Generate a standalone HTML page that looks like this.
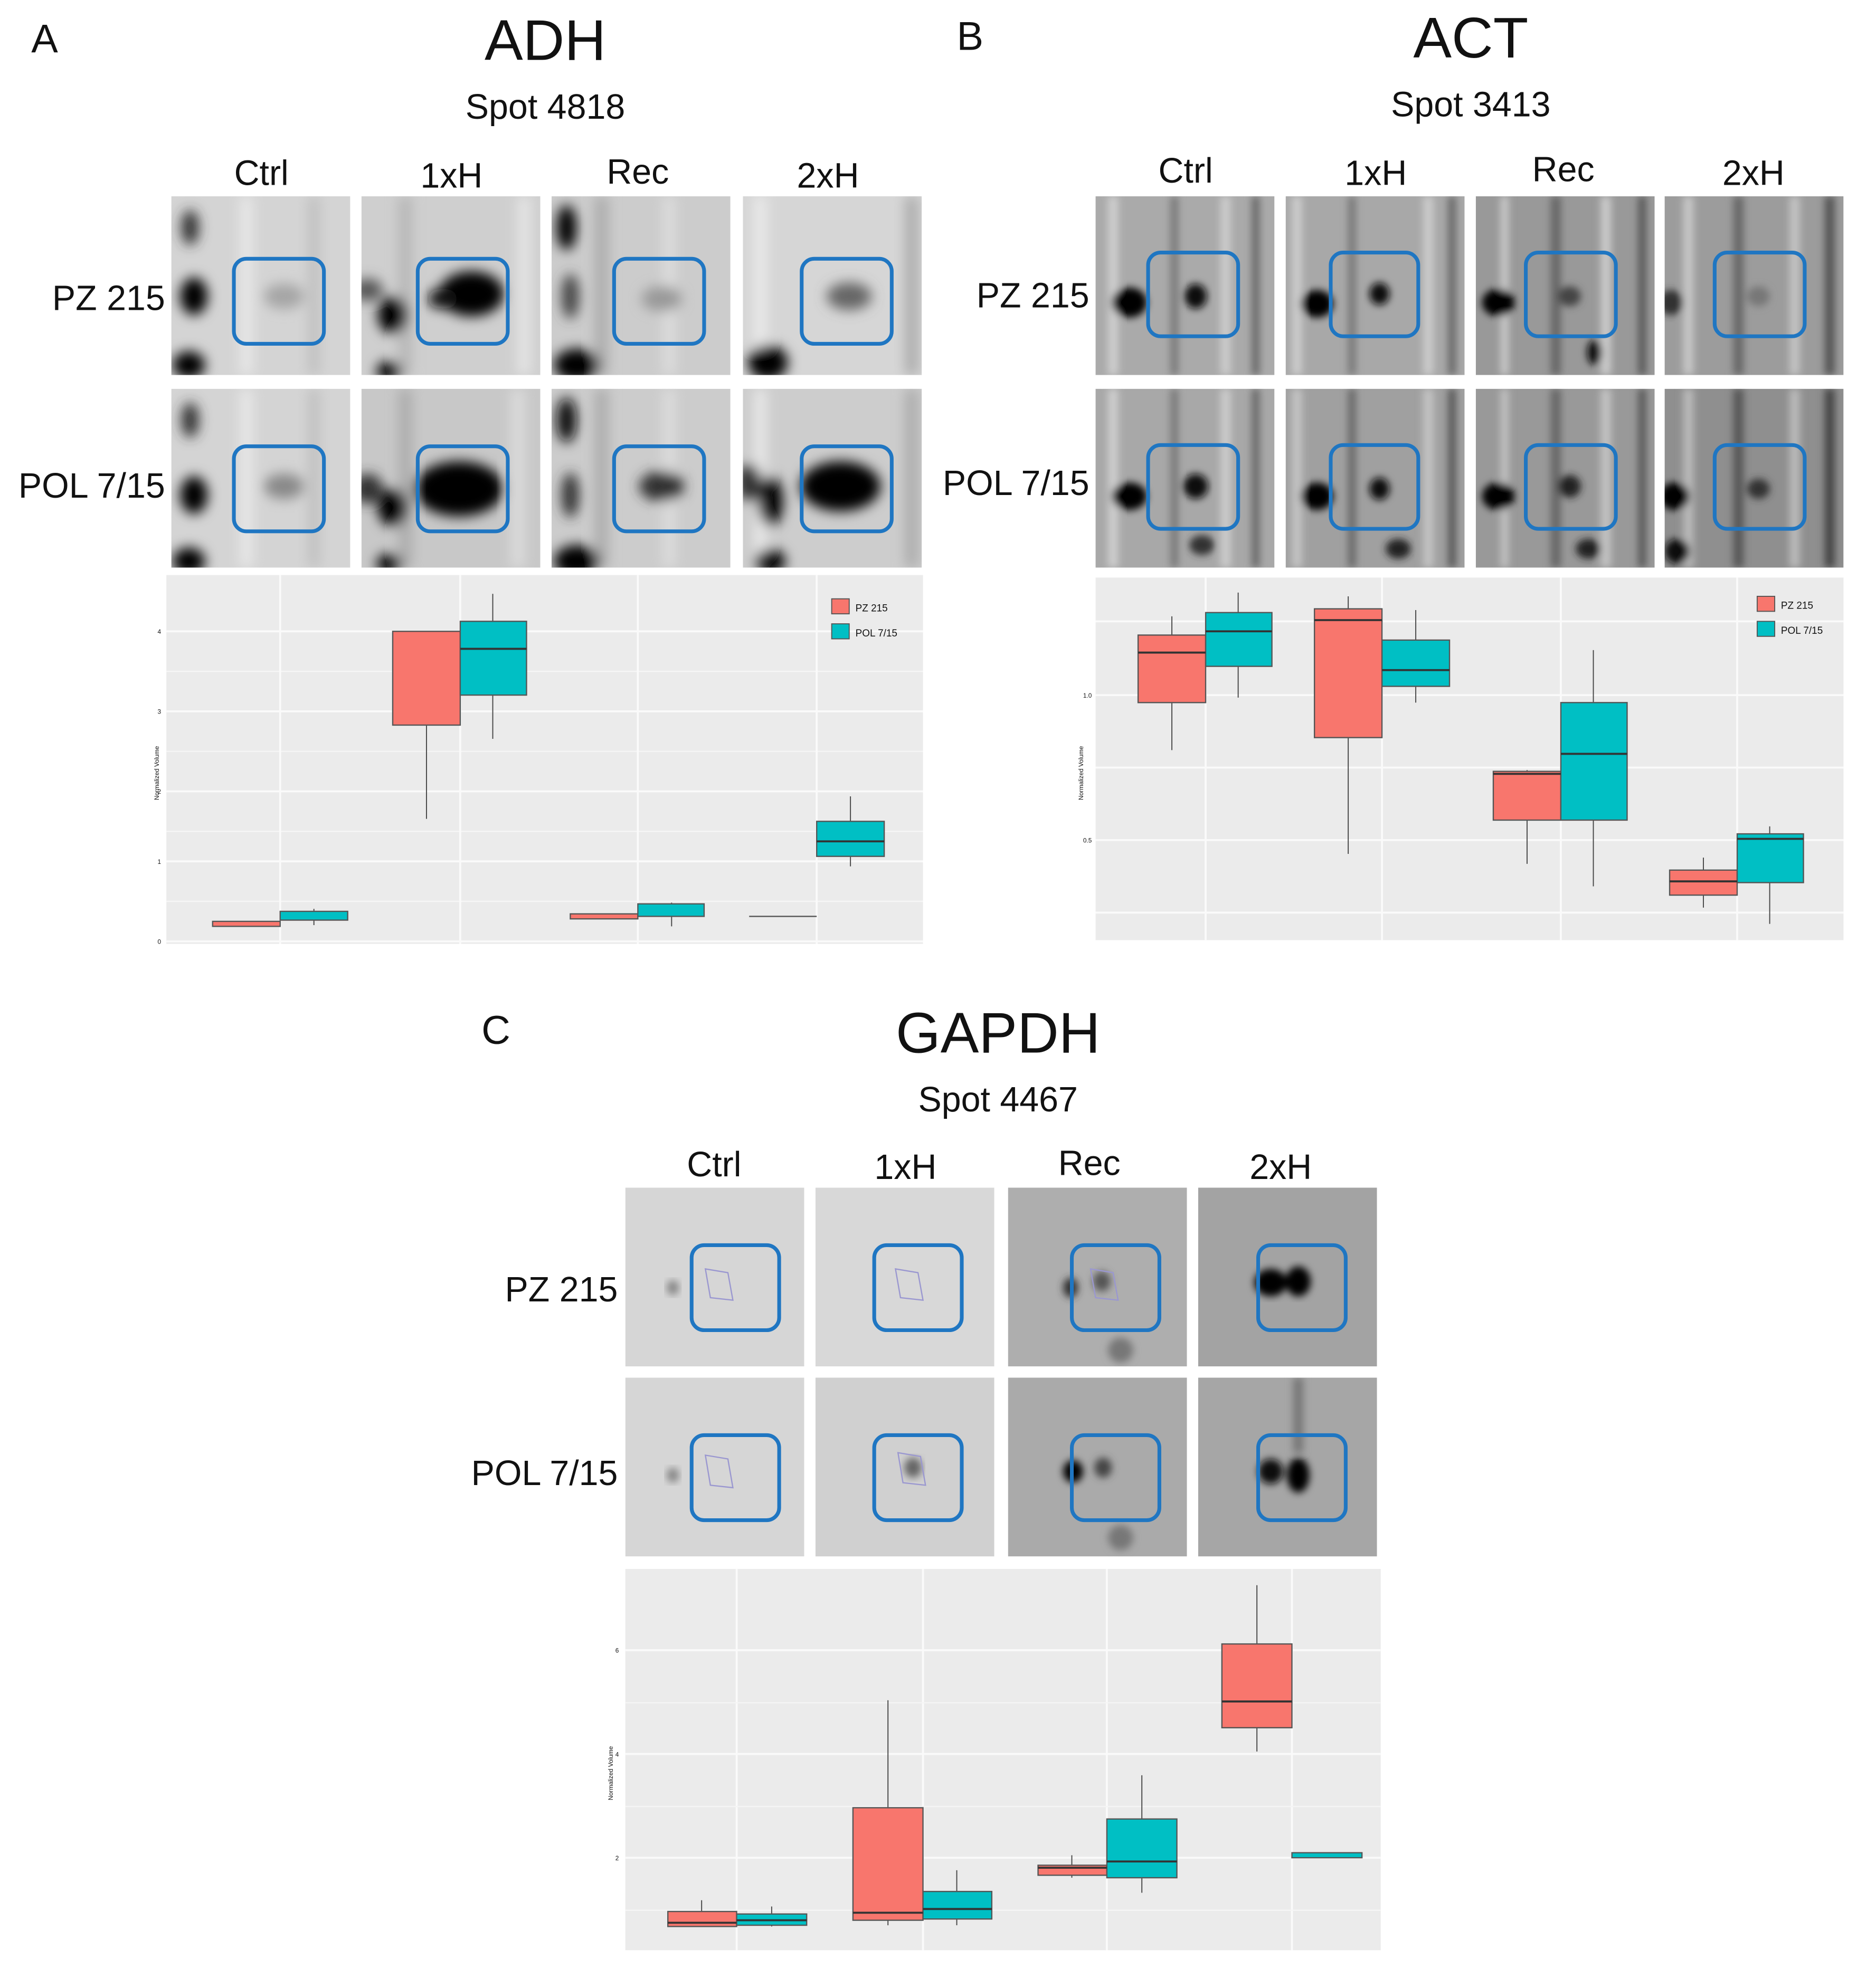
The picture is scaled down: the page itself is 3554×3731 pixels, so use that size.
<!DOCTYPE html>
<html><head><meta charset="utf-8"><style>
html,body{margin:0;padding:0;background:#fff;}
svg{display:block;}
text{font-family:"Liberation Sans",sans-serif;fill:#111;}
</style></head><body>
<svg width="3554" height="3731" viewBox="0 0 1500 1575" preserveAspectRatio="none" xmlns="http://www.w3.org/2000/svg">
<defs>
<clipPath id="cp"><rect x="0" y="0" width="143" height="143"/></clipPath>
<filter id="b" x="-20%" y="-20%" width="140%" height="140%"><feGaussianBlur stdDeviation="5"/></filter>
<filter id="b2" x="-20%" y="-20%" width="140%" height="140%"><feGaussianBlur stdDeviation="3"/></filter>
</defs>
<rect width="1500" height="1575" fill="#fff"/>

<!-- ===== Titles ===== -->
<text x="25" y="42" font-size="32">A</text>
<text x="436" y="48" font-size="46" text-anchor="middle">ADH</text>
<text x="436" y="95" font-size="28" text-anchor="middle">Spot 4818</text>
<text x="765" y="40" font-size="32">B</text>
<text x="1176" y="46" font-size="46" text-anchor="middle">ACT</text>
<text x="1176" y="93" font-size="28" text-anchor="middle">Spot 3413</text>
<text x="385" y="835" font-size="32">C</text>
<text x="798" y="842" font-size="46" text-anchor="middle">GAPDH</text>
<text x="798" y="889" font-size="28" text-anchor="middle">Spot 4467</text>

<g font-size="28" text-anchor="middle">
<text x="209" y="148">Ctrl</text><text x="361" y="150">1xH</text><text x="510" y="147">Rec</text><text x="662" y="150">2xH</text>
<text x="948" y="146">Ctrl</text><text x="1100" y="148">1xH</text><text x="1250" y="145">Rec</text><text x="1402" y="148">2xH</text>
<text x="571" y="941">Ctrl</text><text x="724" y="943">1xH</text><text x="871" y="940">Rec</text><text x="1024" y="943">2xH</text>
</g>
<g font-size="28" text-anchor="end">
<text x="132" y="248">PZ 215</text><text x="132" y="398">POL 7/15</text>
<text x="871" y="246">PZ 215</text><text x="871" y="396">POL 7/15</text>
<text x="494" y="1041">PZ 215</text><text x="494" y="1188">POL 7/15</text>
</g>

<!-- ===== A gels ===== -->
<g id="A">
<!-- row1 -->
<g transform="translate(137,157)" clip-path="url(#cp)"><rect width="143" height="143" fill="#d4d4d4"/><g filter="url(#b)">
<rect x="55" y="0" width="10" height="143" fill="#e8e8e8"/><rect x="110" y="0" width="8" height="143" fill="#bdbdbd"/>
<ellipse cx="15" cy="25" rx="7" ry="14" fill="#333"/><ellipse cx="18" cy="80" rx="11" ry="15" fill="#000"/><ellipse cx="14" cy="135" rx="13" ry="11" fill="#000"/>
<ellipse cx="90" cy="80" rx="16" ry="10" fill="#a5a5a5"/></g>
<rect x="50" y="50" width="72" height="68" rx="10" fill="none" stroke="#1f76c2" stroke-width="3"/></g>
<g transform="translate(289,157)" clip-path="url(#cp)"><rect width="143" height="143" fill="#cfcfcf"/><g filter="url(#b)">
<rect x="30" y="0" width="10" height="143" fill="#b5b5b5"/><rect x="125" y="0" width="10" height="143" fill="#e6e6e6"/>
<ellipse cx="5" cy="75" rx="12" ry="9" fill="#555"/><ellipse cx="25" cy="95" rx="12" ry="15" fill="#000"/><ellipse cx="22" cy="140" rx="10" ry="8" fill="#000"/>
<ellipse cx="88" cy="78" rx="26" ry="18" fill="#000"/><ellipse cx="65" cy="82" rx="12" ry="8" fill="#111"/></g>
<rect x="45" y="50" width="72" height="68" rx="10" fill="none" stroke="#1f76c2" stroke-width="3"/></g>
<g transform="translate(441,157)" clip-path="url(#cp)"><rect width="143" height="143" fill="#cccccc"/><g filter="url(#b)">
<rect x="35" y="0" width="10" height="143" fill="#aaa"/><rect x="90" y="0" width="8" height="143" fill="#e0e0e0"/>
<ellipse cx="12" cy="25" rx="8" ry="18" fill="#000"/><ellipse cx="15" cy="80" rx="7" ry="18" fill="#444"/><ellipse cx="20" cy="135" rx="18" ry="13" fill="#000"/>
<ellipse cx="88" cy="82" rx="16" ry="10" fill="#999"/></g>
<rect x="50" y="50" width="72" height="68" rx="10" fill="none" stroke="#1f76c2" stroke-width="3"/></g>
<g transform="translate(594,157)" clip-path="url(#cp)"><rect width="143" height="143" fill="#d6d6d6"/><g filter="url(#b)">
<rect x="10" y="0" width="8" height="143" fill="#eee"/><rect x="130" y="0" width="10" height="143" fill="#aaa"/>
<ellipse cx="20" cy="133" rx="16" ry="14" fill="#000"/>
<ellipse cx="85" cy="80" rx="18" ry="11" fill="#666"/></g>
<rect x="47" y="50" width="72" height="68" rx="10" fill="none" stroke="#1f76c2" stroke-width="3"/></g>
<!-- row2 -->
<g transform="translate(137,311)" clip-path="url(#cp)"><rect width="143" height="143" fill="#d4d4d4"/><g filter="url(#b)">
<rect x="55" y="0" width="10" height="143" fill="#e8e8e8"/><rect x="110" y="0" width="8" height="143" fill="#bdbdbd"/>
<ellipse cx="15" cy="25" rx="7" ry="14" fill="#333"/><ellipse cx="18" cy="85" rx="11" ry="15" fill="#000"/><ellipse cx="14" cy="138" rx="13" ry="11" fill="#000"/>
<ellipse cx="90" cy="78" rx="16" ry="10" fill="#888"/></g>
<rect x="50" y="46" width="72" height="68" rx="10" fill="none" stroke="#1f76c2" stroke-width="3"/></g>
<g transform="translate(289,311)" clip-path="url(#cp)"><rect width="143" height="143" fill="#c8c8c8"/><g filter="url(#b)">
<rect x="30" y="0" width="10" height="143" fill="#aaa"/><rect x="120" y="0" width="10" height="143" fill="#ddd"/>
<ellipse cx="5" cy="80" rx="12" ry="12" fill="#333"/><ellipse cx="25" cy="95" rx="12" ry="15" fill="#000"/><ellipse cx="22" cy="140" rx="10" ry="8" fill="#000"/>
<ellipse cx="78" cy="80" rx="36" ry="22" fill="#000"/></g>
<rect x="45" y="46" width="72" height="68" rx="10" fill="none" stroke="#1f76c2" stroke-width="3"/></g>
<g transform="translate(441,311)" clip-path="url(#cp)"><rect width="143" height="143" fill="#cccccc"/><g filter="url(#b)">
<rect x="35" y="0" width="10" height="143" fill="#aaa"/><rect x="90" y="0" width="8" height="143" fill="#e0e0e0"/>
<ellipse cx="12" cy="25" rx="8" ry="18" fill="#111"/><ellipse cx="15" cy="85" rx="7" ry="18" fill="#333"/><ellipse cx="20" cy="138" rx="18" ry="13" fill="#000"/>
<ellipse cx="88" cy="78" rx="18" ry="12" fill="#333"/></g>
<rect x="50" y="46" width="72" height="68" rx="10" fill="none" stroke="#1f76c2" stroke-width="3"/></g>
<g transform="translate(594,311)" clip-path="url(#cp)"><rect width="143" height="143" fill="#cdcdcd"/><g filter="url(#b)">
<rect x="10" y="0" width="8" height="143" fill="#eee"/><rect x="130" y="0" width="10" height="143" fill="#aaa"/>
<ellipse cx="5" cy="75" rx="10" ry="15" fill="#333"/><ellipse cx="22" cy="90" rx="10" ry="20" fill="#000"/><ellipse cx="22" cy="138" rx="12" ry="10" fill="#000"/>
<ellipse cx="78" cy="78" rx="32" ry="20" fill="#000"/></g>
<rect x="47" y="46" width="72" height="68" rx="10" fill="none" stroke="#1f76c2" stroke-width="3"/></g>
</g>

<!-- ===== B gels ===== -->
<g>
<g transform="translate(876,157)" clip-path="url(#cp)"><rect width="143" height="143" fill="#aaa"/><g filter="url(#b2)">
<rect x="10" y="0" width="8" height="143" fill="#cfcfcf"/><rect x="60" y="0" width="6" height="143" fill="#777"/><rect x="100" y="0" width="8" height="143" fill="#ccc"/><rect x="125" y="0" width="6" height="143" fill="#666"/>
<ellipse cx="27" cy="85" rx="14" ry="12" fill="#000"/><ellipse cx="80" cy="80" rx="9" ry="10" fill="#111"/></g>
<rect x="42" y="45" width="72" height="67" rx="10" fill="none" stroke="#1f76c2" stroke-width="3"/></g>
<g transform="translate(1028,157)" clip-path="url(#cp)"><rect width="143" height="143" fill="#a8a8a8"/><g filter="url(#b2)">
<rect x="5" y="0" width="8" height="143" fill="#ccc"/><rect x="50" y="0" width="6" height="143" fill="#777"/><rect x="110" y="0" width="8" height="143" fill="#ccc"/><rect x="130" y="0" width="6" height="143" fill="#666"/>
<ellipse cx="25" cy="86" rx="13" ry="11" fill="#000"/><ellipse cx="75" cy="78" rx="8" ry="9" fill="#111"/></g>
<rect x="36" y="45" width="70" height="67" rx="10" fill="none" stroke="#1f76c2" stroke-width="3"/></g>
<g transform="translate(1180,157)" clip-path="url(#cp)"><rect width="143" height="143" fill="#999"/><g filter="url(#b2)">
<rect x="20" y="0" width="6" height="143" fill="#ccc"/><rect x="60" y="0" width="8" height="143" fill="#666"/><rect x="100" y="0" width="8" height="143" fill="#ccc"/><rect x="130" y="0" width="6" height="143" fill="#555"/>
<ellipse cx="18" cy="85" rx="13" ry="11" fill="#000"/><ellipse cx="75" cy="80" rx="9" ry="8" fill="#444"/><ellipse cx="95" cy="125" rx="6" ry="10" fill="#111"/></g>
<rect x="40" y="45" width="72" height="67" rx="10" fill="none" stroke="#1f76c2" stroke-width="3"/></g>
<g transform="translate(1331,157)" clip-path="url(#cp)"><rect width="143" height="143" fill="#9c9c9c"/><g filter="url(#b2)">
<rect x="15" y="0" width="8" height="143" fill="#c8c8c8"/><rect x="55" y="0" width="8" height="143" fill="#666"/><rect x="100" y="0" width="8" height="143" fill="#c4c4c4"/><rect x="128" y="0" width="8" height="143" fill="#555"/>
<ellipse cx="5" cy="85" rx="10" ry="10" fill="#333"/><ellipse cx="75" cy="80" rx="9" ry="8" fill="#777"/></g>
<rect x="40" y="45" width="72" height="67" rx="10" fill="none" stroke="#1f76c2" stroke-width="3"/></g>

<g transform="translate(876,311)" clip-path="url(#cp)"><rect width="143" height="143" fill="#a8a8a8"/><g filter="url(#b2)">
<rect x="10" y="0" width="8" height="143" fill="#cfcfcf"/><rect x="60" y="0" width="6" height="143" fill="#777"/><rect x="100" y="0" width="8" height="143" fill="#ccc"/><rect x="125" y="0" width="6" height="143" fill="#666"/>
<ellipse cx="27" cy="86" rx="14" ry="11" fill="#000"/><ellipse cx="80" cy="78" rx="10" ry="10" fill="#111"/><ellipse cx="85" cy="125" rx="10" ry="8" fill="#333"/></g>
<rect x="42" y="45" width="72" height="67" rx="10" fill="none" stroke="#1f76c2" stroke-width="3"/></g>
<g transform="translate(1028,311)" clip-path="url(#cp)"><rect width="143" height="143" fill="#a0a0a0"/><g filter="url(#b2)">
<rect x="5" y="0" width="8" height="143" fill="#c4c4c4"/><rect x="50" y="0" width="6" height="143" fill="#666"/><rect x="110" y="0" width="8" height="143" fill="#c4c4c4"/><rect x="130" y="0" width="6" height="143" fill="#555"/>
<ellipse cx="25" cy="86" rx="13" ry="11" fill="#000"/><ellipse cx="75" cy="80" rx="8" ry="9" fill="#111"/><ellipse cx="90" cy="128" rx="10" ry="8" fill="#222"/></g>
<rect x="36" y="45" width="70" height="67" rx="10" fill="none" stroke="#1f76c2" stroke-width="3"/></g>
<g transform="translate(1180,311)" clip-path="url(#cp)"><rect width="143" height="143" fill="#999"/><g filter="url(#b2)">
<rect x="20" y="0" width="6" height="143" fill="#c4c4c4"/><rect x="60" y="0" width="8" height="143" fill="#666"/><rect x="100" y="0" width="8" height="143" fill="#c4c4c4"/><rect x="130" y="0" width="6" height="143" fill="#555"/>
<ellipse cx="18" cy="86" rx="13" ry="11" fill="#000"/><ellipse cx="75" cy="78" rx="9" ry="9" fill="#222"/><ellipse cx="90" cy="128" rx="10" ry="8" fill="#222"/></g>
<rect x="40" y="45" width="72" height="67" rx="10" fill="none" stroke="#1f76c2" stroke-width="3"/></g>
<g transform="translate(1331,311)" clip-path="url(#cp)"><rect width="143" height="143" fill="#8f8f8f"/><g filter="url(#b2)">
<rect x="15" y="0" width="8" height="143" fill="#bbb"/><rect x="55" y="0" width="8" height="143" fill="#555"/><rect x="100" y="0" width="8" height="143" fill="#bbb"/><rect x="128" y="0" width="8" height="143" fill="#444"/>
<ellipse cx="8" cy="86" rx="12" ry="11" fill="#000"/><ellipse cx="75" cy="80" rx="9" ry="8" fill="#333"/><ellipse cx="10" cy="130" rx="10" ry="10" fill="#111"/></g>
<rect x="40" y="45" width="72" height="67" rx="10" fill="none" stroke="#1f76c2" stroke-width="3"/></g>
</g>

<!-- ===== C gels ===== -->
<g>
<g transform="translate(500,950)" clip-path="url(#cp)"><rect width="143" height="143" fill="#d6d6d6"/><g filter="url(#b2)"><ellipse cx="38" cy="80" rx="5" ry="6" fill="#888"/></g>
<path d="M64 65 L82 68 L86 90 L68 88 Z" fill="none" stroke="#9a97d0" stroke-width="1"/>
<rect x="53" y="46" width="70" height="68" rx="10" fill="none" stroke="#1f76c2" stroke-width="3"/></g>
<g transform="translate(652,950)" clip-path="url(#cp)"><rect width="143" height="143" fill="#d8d8d8"/>
<path d="M64 65 L82 68 L86 90 L68 88 Z" fill="none" stroke="#9a97d0" stroke-width="1"/>
<rect x="47" y="46" width="70" height="68" rx="10" fill="none" stroke="#1f76c2" stroke-width="3"/></g>
<g transform="translate(806,950)" clip-path="url(#cp)"><rect width="143" height="143" fill="#aeaeae"/><g filter="url(#b2)">
<ellipse cx="50" cy="80" rx="6" ry="8" fill="#333"/><ellipse cx="75" cy="75" rx="7" ry="8" fill="#555"/><ellipse cx="90" cy="130" rx="10" ry="10" fill="#777"/></g>
<path d="M66 65 L84 68 L88 90 L70 88 Z" fill="none" stroke="#9a97d0" stroke-width="1"/>
<rect x="51" y="46" width="70" height="68" rx="10" fill="none" stroke="#1f76c2" stroke-width="3"/></g>
<g transform="translate(958,950)" clip-path="url(#cp)"><rect width="143" height="143" fill="#a3a3a3"/><g filter="url(#b2)">
<ellipse cx="58" cy="76" rx="13" ry="11" fill="#000"/><ellipse cx="80" cy="75" rx="10" ry="12" fill="#000"/></g>
<rect x="48" y="46" width="70" height="68" rx="10" fill="none" stroke="#1f76c2" stroke-width="3"/></g>

<g transform="translate(500,1102)" clip-path="url(#cp)"><rect width="143" height="143" fill="#d6d6d6"/><g filter="url(#b2)"><ellipse cx="38" cy="78" rx="5" ry="6" fill="#888"/></g>
<path d="M64 62 L82 65 L86 88 L68 86 Z" fill="none" stroke="#9a97d0" stroke-width="1"/>
<rect x="53" y="46" width="70" height="68" rx="10" fill="none" stroke="#1f76c2" stroke-width="3"/></g>
<g transform="translate(652,1102)" clip-path="url(#cp)"><rect width="143" height="143" fill="#d0d0d0"/><g filter="url(#b2)"><ellipse cx="78" cy="72" rx="7" ry="8" fill="#666"/></g>
<path d="M66 60 L84 63 L88 86 L70 84 Z" fill="none" stroke="#9a97d0" stroke-width="1"/>
<rect x="47" y="46" width="70" height="68" rx="10" fill="none" stroke="#1f76c2" stroke-width="3"/></g>
<g transform="translate(806,1102)" clip-path="url(#cp)"><rect width="143" height="143" fill="#aaa"/><g filter="url(#b2)">
<ellipse cx="52" cy="75" rx="8" ry="9" fill="#000"/><ellipse cx="76" cy="72" rx="7" ry="8" fill="#444"/><ellipse cx="90" cy="128" rx="10" ry="10" fill="#777"/></g>
<rect x="51" y="46" width="70" height="68" rx="10" fill="none" stroke="#1f76c2" stroke-width="3"/></g>
<g transform="translate(958,1102)" clip-path="url(#cp)"><rect width="143" height="143" fill="#a6a6a6"/><g filter="url(#b2)">
<ellipse cx="58" cy="75" rx="10" ry="10" fill="#111"/><ellipse cx="80" cy="78" rx="9" ry="14" fill="#000"/><rect x="76" y="0" width="8" height="60" fill="#777"/></g>
<rect x="48" y="46" width="70" height="68" rx="10" fill="none" stroke="#1f76c2" stroke-width="3"/></g>
</g>

<!-- ===== Chart A ===== -->
<g>
<rect x="133" y="460" width="605" height="295" fill="#ebebeb"/>
<g stroke="#f6f6f6" stroke-width="1">
<line x1="133" y1="537" x2="738" y2="537"/><line x1="133" y1="601" x2="738" y2="601"/><line x1="133" y1="665" x2="738" y2="665"/><line x1="133" y1="721" x2="738" y2="721"/>
</g>
<g stroke="#fafafa" stroke-width="1.6">
<line x1="133" y1="505" x2="738" y2="505"/><line x1="133" y1="569" x2="738" y2="569"/><line x1="133" y1="633" x2="738" y2="633"/><line x1="133" y1="689" x2="738" y2="689"/><line x1="133" y1="753" x2="738" y2="753"/>
<line x1="224" y1="460" x2="224" y2="755"/><line x1="368" y1="460" x2="368" y2="755"/><line x1="510" y1="460" x2="510" y2="755"/><line x1="653" y1="460" x2="653" y2="755"/>
</g>
<g stroke="#444" stroke-width="0.8">
<line x1="341" y1="505" x2="341" y2="655"/><line x1="394" y1="475" x2="394" y2="591"/><line x1="680" y1="637" x2="680" y2="693"/><line x1="251" y1="727" x2="251" y2="740"/><line x1="537" y1="722" x2="537" y2="741"/>
</g>
<g stroke="#555" stroke-width="1">
<rect x="170" y="737" width="54" height="4" fill="#f8766d"/><rect x="224" y="729" width="54" height="7" fill="#00bfc4"/>
<rect x="314" y="505" width="54" height="75" fill="#f8766d"/><rect x="368" y="497" width="53" height="59" fill="#00bfc4"/>
<rect x="456" y="731" width="54" height="4" fill="#f8766d"/><rect x="510" y="723" width="53" height="10" fill="#00bfc4"/>
<line x1="599" y1="733" x2="653" y2="733"/><rect x="653" y="657" width="54" height="28" fill="#00bfc4"/>
</g>
<g stroke="#333" stroke-width="1.6"><line x1="368" y1="519" x2="421" y2="519"/><line x1="653" y1="673" x2="707" y2="673"/></g>
<g font-size="5" fill="#555"><text x="126" y="507">4</text><text x="126" y="571">3</text><text x="126" y="635">2</text><text x="126" y="691">1</text><text x="126" y="755">0</text></g>
<text transform="translate(127,640) rotate(-90)" font-size="5" fill="#555">Normalized Volume</text>
<rect x="665" y="479" width="14" height="12" fill="#f8766d" stroke="#555" stroke-width="0.8"/><text x="684" y="489" font-size="8">PZ 215</text>
<rect x="665" y="499" width="14" height="12" fill="#00bfc4" stroke="#555" stroke-width="0.8"/><text x="684" y="509" font-size="8">POL 7/15</text>
</g>

<!-- ===== Chart B ===== -->
<g>
<rect x="876" y="462" width="598" height="290" fill="#ebebeb"/>
<g stroke="#fafafa" stroke-width="1.6">
<line x1="876" y1="497" x2="1474" y2="497"/><line x1="876" y1="556" x2="1474" y2="556"/><line x1="876" y1="614" x2="1474" y2="614"/><line x1="876" y1="672" x2="1474" y2="672"/><line x1="876" y1="730" x2="1474" y2="730"/>
<line x1="964" y1="462" x2="964" y2="752"/><line x1="1105" y1="462" x2="1105" y2="752"/><line x1="1248" y1="462" x2="1248" y2="752"/><line x1="1389" y1="462" x2="1389" y2="752"/>
</g>
<g stroke="#444" stroke-width="0.8">
<line x1="937" y1="493" x2="937" y2="600"/><line x1="990" y1="474" x2="990" y2="558"/><line x1="1078" y1="477" x2="1078" y2="683"/><line x1="1132" y1="488" x2="1132" y2="562"/>
<line x1="1221" y1="616" x2="1221" y2="691"/><line x1="1274" y1="520" x2="1274" y2="709"/><line x1="1362" y1="686" x2="1362" y2="726"/><line x1="1415" y1="661" x2="1415" y2="739"/>
</g>
<g stroke="#555" stroke-width="1">
<rect x="910" y="508" width="54" height="54" fill="#f8766d"/><rect x="964" y="490" width="53" height="43" fill="#00bfc4"/>
<rect x="1051" y="487" width="54" height="103" fill="#f8766d"/><rect x="1105" y="512" width="54" height="37" fill="#00bfc4"/>
<rect x="1194" y="617" width="54" height="39" fill="#f8766d"/><rect x="1248" y="562" width="53" height="94" fill="#00bfc4"/>
<rect x="1335" y="696" width="54" height="20" fill="#f8766d"/><rect x="1389" y="667" width="53" height="39" fill="#00bfc4"/>
</g>
<g stroke="#333" stroke-width="1.6">
<line x1="910" y1="522" x2="964" y2="522"/><line x1="964" y1="505" x2="1017" y2="505"/><line x1="1051" y1="496" x2="1105" y2="496"/><line x1="1105" y1="536" x2="1159" y2="536"/>
<line x1="1194" y1="619" x2="1248" y2="619"/><line x1="1248" y1="603" x2="1301" y2="603"/><line x1="1335" y1="705" x2="1389" y2="705"/><line x1="1389" y1="671" x2="1442" y2="671"/>
</g>
<g font-size="5" fill="#555"><text x="866" y="558">1.0</text><text x="866" y="674">0.5</text></g>
<text transform="translate(866,640) rotate(-90)" font-size="5" fill="#555">Normalized Volume</text>
<rect x="1405" y="477" width="14" height="12" fill="#f8766d" stroke="#555" stroke-width="0.8"/><text x="1424" y="487" font-size="8">PZ 215</text>
<rect x="1405" y="497" width="14" height="12" fill="#00bfc4" stroke="#555" stroke-width="0.8"/><text x="1424" y="507" font-size="8">POL 7/15</text>
</g>

<!-- ===== Chart C ===== -->
<g>
<rect x="500" y="1255" width="604" height="305" fill="#ebebeb"/>
<g stroke="#fafafa" stroke-width="1.6">
<line x1="500" y1="1320" x2="1104" y2="1320"/><line x1="500" y1="1403" x2="1104" y2="1403"/><line x1="500" y1="1486" x2="1104" y2="1486"/>
<line x1="589" y1="1255" x2="589" y2="1560"/><line x1="738" y1="1255" x2="738" y2="1560"/><line x1="885" y1="1255" x2="885" y2="1560"/><line x1="1033" y1="1255" x2="1033" y2="1560"/>
</g>
<g stroke="#f5f5f5" stroke-width="1"><line x1="500" y1="1362" x2="1104" y2="1362"/><line x1="500" y1="1445" x2="1104" y2="1445"/><line x1="500" y1="1528" x2="1104" y2="1528"/></g>
<g stroke="#444" stroke-width="0.8">
<line x1="561" y1="1520" x2="561" y2="1541"/><line x1="617" y1="1525" x2="617" y2="1541"/><line x1="710" y1="1360" x2="710" y2="1540"/><line x1="765" y1="1496" x2="765" y2="1540"/>
<line x1="857" y1="1484" x2="857" y2="1502"/><line x1="913" y1="1420" x2="913" y2="1514"/><line x1="1005" y1="1268" x2="1005" y2="1401"/>
</g>
<g stroke="#555" stroke-width="1">
<rect x="534" y="1529" width="55" height="12" fill="#f8766d"/><rect x="589" y="1531" width="56" height="9" fill="#00bfc4"/>
<rect x="682" y="1446" width="56" height="90" fill="#f8766d"/><rect x="738" y="1513" width="55" height="22" fill="#00bfc4"/>
<rect x="830" y="1492" width="55" height="8" fill="#f8766d"/><rect x="885" y="1455" width="56" height="47" fill="#00bfc4"/>
<rect x="977" y="1315" width="56" height="67" fill="#f8766d"/><rect x="1033" y="1482" width="56" height="4" fill="#00bfc4"/>
</g>
<g stroke="#333" stroke-width="1.6">
<line x1="534" y1="1538" x2="589" y2="1538"/><line x1="589" y1="1536" x2="645" y2="1536"/><line x1="682" y1="1530" x2="738" y2="1530"/><line x1="738" y1="1527" x2="793" y2="1527"/>
<line x1="830" y1="1494" x2="885" y2="1494"/><line x1="885" y1="1489" x2="941" y2="1489"/><line x1="977" y1="1361" x2="1033" y2="1361"/>
</g>
<g font-size="5" fill="#555"><text x="492" y="1322">6</text><text x="492" y="1405">4</text><text x="492" y="1488">2</text></g>
<text transform="translate(490,1440) rotate(-90)" font-size="5" fill="#555">Normalized Volume</text>
</g>
</svg>
</body></html>
